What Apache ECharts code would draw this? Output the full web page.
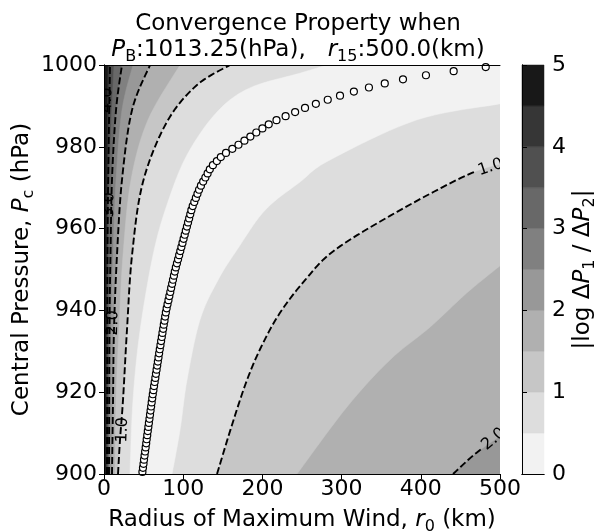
<!DOCTYPE html>
<html><head><meta charset="utf-8">
<script src="https://cdn.jsdelivr.net/npm/echarts@6/dist/echarts.min.js"></script>
<style>html,body{margin:0;padding:0;background:#fff}#c{width:596px;height:531px}</style>
</head><body><div id="c"></div>
<script>
// ---- axis ticks ----
const xTicks = [0, 100, 200, 300, 400, 500];
const yTicks = [900, 920, 940, 960, 980, 1000];
const cbTicks = [0, 1, 2, 3, 4, 5];
// ---- contour levels and band colours (0-0.5, 0.5-1, ... 4.5-5) ----
const levels = [0.5, 1.0, 1.5, 2.0, 2.5, 3.0, 3.5, 4.0, 4.5, 5.0];
const bandColors = ['#f2f2f2','#dddddd','#c6c6c6','#b0b0b0','#989898','#808080','#686868','#505050','#363636','#181818'];
// ---- contour lines, [r0 (km), Pc (hPa)], left branch: bottom -> top edge ----
const left05 = [[32.8,900],[36.6,918],[45.5,935],[61.9,953.5],[79.5,965.8],[104.8,978],[142.7,988.5],[184.3,994.4],[247.5,998],[281.6,1000]];
const left10 = [[17.7,900],[20.2,908.3],[24,918.1],[29,935.2],[35.4,953.5],[49.2,971.4],[79.5,986.1],[117.4,995.1],[159.1,1000]];
const left15 = [[13.9,900],[15.2,918.1],[18.9,935.2],[24,953.5],[34.1,971.9],[55.6,986.6],[96,1000]];
const left20 = [[10.1,900],[11.4,918.1],[12.6,935.2],[16.4,953.5],[22.7,971.9],[35.4,989],[58.1,1000]];
const left25 = [[7.6,900],[8.8,935],[11.4,953.5],[15.2,972],[22.7,989],[36.6,1000]];
const left30 = [[6.3,900],[6.9,935],[8.2,953.5],[10.1,972],[15.2,989],[22.7,1000]];
const left35 = [[5.1,900],[5.7,953.5],[7.6,978],[12.6,1000]];
const left40 = [[3.8,900],[4.4,953.5],[5.7,978],[7.6,1000]];
const left45 = [[2.5,900],[3.2,953.5],[3.8,978],[5.1,1000]];
// right branch: bottom edge -> right edge
const right05 = [[85.9,900],[96,910.8],[104.8,923],[121.2,937.7],[143.9,947.4],[167.9,954.8],[203.3,964.5],[247.5,971.4],[285.4,976.8],[395.2,986.6],[500,990.5]];
const right10 = [[142.7,900],[161.6,912],[180.6,923],[199.5,931.5],[222.2,939.4],[253.8,947.4],[291.7,954.8],[370,964.1],[458.3,973.1],[500,975.8]];
const right15 = [[243.7,900],[306.8,916.4],[361.1,927.9],[411.6,935.9],[458.3,944.3],[500,950.9]];
const right20 = [[440.7,900],[469.7,905.1],[500,909.3]];
// ---- contour labels ----
const labelText = ['1.0','2.0','3.0','4.0','1.0','2.0'];
const labelR    = [23.5, 11.4, 6.3, 3.8, 488, 492];
const labelPc   = [910.8, 936.9, 965.8, 991.4, 975.0, 908.5];
const labelRot  = [88, 89, 89, 89, 18, 40];
// ---- zero line markers [r0, Pc] ----
const zeroLine = [[48.5,900.5],[49.2,901.5],[49.9,902.5],[50.5,903.5],[51.2,904.5],[51.9,905.5],[52.6,906.5],[53.3,907.5],[53.9,908.5],[54.6,909.5],
[55.3,910.5],[56.0,911.5],[56.7,912.5],[57.4,913.5],[58.1,914.5],[58.8,915.5],[59.5,916.5],[60.2,917.5],[60.9,918.5],[61.6,919.5],
[62.4,920.5],[63.2,921.5],[64.0,922.5],[64.8,923.5],[65.6,924.5],[66.4,925.5],[67.2,926.5],[68.0,927.5],[68.8,928.5],[69.6,929.5],
[70.4,930.5],[71.3,931.5],[72.1,932.5],[73.0,933.5],[73.8,934.5],[74.7,935.5],[75.5,936.5],[76.4,937.5],[77.2,938.5],[78.1,939.5],
[79.1,940.5],[80.2,941.5],[81.4,942.5],[82.5,943.5],[83.7,944.5],[84.8,945.5],[86.0,946.5],[87.1,947.5],[88.3,948.5],[89.4,949.5],
[90.7,950.5],[92.1,951.5],[93.5,952.5],[94.9,953.5],[96.3,954.5],[97.7,955.5],[99.1,956.5],[100.5,957.5],[101.9,958.5],[103.3,959.5],
[104.7,960.5],[106.1,961.5],[107.5,962.5],[108.9,963.5],[110.3,964.5],[112.0,965.5],[114.0,966.5],[116.0,967.5],[118.0,968.5],[120.0,969.5],
[122.4,970.5],[125.2,971.5],[128.0,972.5],[130.8,973.5],[133.6,974.5],[137.5,975.5],[142.5,976.5],[147.5,977.5],[154.0,978.5],[162.0,979.5],
[169.8,980.5],[177.3,981.5],[184.8,982.5],[192.3,983.5],[200.0,984.5],[208.0,985.5],[217.8,986.5],[229.3,987.5],[241.3,988.5],[253.8,989.5],
[267.5,990.5],[282.5,991.5],[298.0,992.5],[315.5,993.5],[334.5,994.5],[354.5,995.5],[377.5,996.5],[406.5,997.5],[441.5,998.5],[482.0,999.5]];

const leftC = {0.5:left05, 1:left10, 1.5:left15, 2:left20, 2.5:left25, 3:left30, 3.5:left35, 4:left40, 4.5:left45};
const rightC = {0.5:right05, 1:right10, 1.5:right15, 2:right20};
const dashedSets = [left10, left20, left30, left40, right10, right20];
const dashedTrim = [false, false, false, false, true, true]; // last segment hidden under right-edge labels
const xMin = xTicks[0], xMax = xTicks[xTicks.length-1];
const yMin = yTicks[0], yMax = yTicks[yTicks.length-1];

// Catmull-Rom sampling of a polyline in pixel space (rendering only)
function smoothPix(pts, n) {
  n = n || 10;
  if (pts.length < 3) return pts.slice();
  const out = [];
  for (let i = 0; i < pts.length - 1; i++) {
    const p0 = pts[i-1] || pts[i], p1 = pts[i], p2 = pts[i+1], p3 = pts[i+2] || pts[i+1];
    for (let k = 0; k < n; k++) {
      const t = k / n, t2 = t*t, t3 = t2*t;
      const f = j => 0.5*((2*p1[j]) + (-p0[j]+p2[j])*t + (2*p0[j]-5*p1[j]+4*p2[j]-p3[j])*t2 + (-p0[j]+3*p1[j]-3*p2[j]+p3[j])*t3);
      out.push([f(0), f(1)]);
    }
  }
  out.push(pts[pts.length-1]);
  return out;
}

function regionPix(c, api) {
  const C = p => api.coord(p);
  if (c === null) return [[xMin,yMin],[xMin,yMax],[xMax,yMax],[xMax,yMin]].map(C);
  let pts = smoothPix(leftC[c].map(C));
  pts.push(C([xMax, yMax]));
  if (rightC[c]) pts = pts.concat(smoothPix(rightC[c].map(C)).reverse());
  else pts.push(C([xMax, yMin]));
  return pts;
}
const fillSteps = [null, 4.5, 4, 3.5, 3, 2.5, 2, 1.5, 1, 0.5];
function stepColor(c) { return c === null ? bandColors[bandColors.length-1] : bandColors[Math.round(c/0.5) - 1]; }

const FONT = 'DejaVu Sans';
function richFor(size) {
  return {
    i: {fontStyle:'italic', fontSize:size, fontFamily:FONT, color:'#000', lineHeight:30},
    s: {fontSize:Math.round(size*0.7), fontFamily:FONT, color:'#000', lineHeight:18, verticalAlign:'bottom'}
  };
}
const NAME = 23, TICK = 22;

const chart = echarts.init(document.getElementById('c'));
const axisCommon = {
  axisLine:{show:true, lineStyle:{color:'#000', width:1}},
  splitLine:{show:false}, z:10
};
const plainNum = v => String(v);
const option = {
  animation:false,
  backgroundColor:'#fff',
  title:[
    {text:'Convergence Property when', left:'center', top:4, padding:[5,0,5,8],
     textStyle:{fontFamily:FONT, fontSize:NAME, fontWeight:'normal', color:'#000', lineHeight:30}},
    {text:'{i|P}{s|B}:1013.25(hPa),   {i|r}{s|15}:500.0(km)', left:'center', top:30, padding:[5,0,5,8],
     textStyle:{fontFamily:FONT, fontSize:NAME, fontWeight:'normal', color:'#000', lineHeight:30, rich:richFor(NAME)}}
  ],
  grid:[
    {left:104, top:65, width:396, height:409, containLabel:false, outerBoundsMode:'none'},
    {left:522, top:65, width:22, height:409, containLabel:false, outerBoundsMode:'none'}
  ],
  xAxis:[
    Object.assign({}, axisCommon, {type:'value', gridIndex:0, min:xMin, max:xMax, interval:100, position:'bottom',
      axisTick:{show:true, length:5, lineStyle:{color:'#000', width:1}},
      axisLabel:{fontFamily:FONT, fontSize:TICK, color:'#000', margin:4, lineHeight:22, formatter:plainNum},
      name:'Radius of Maximum Wind, {i|r}{s|0} (km)', nameLocation:'middle', nameGap:26,
      nameTextStyle:{fontFamily:FONT, fontSize:NAME, color:'#000', lineHeight:30, rich:richFor(NAME)}}),
    Object.assign({}, axisCommon, {type:'value', gridIndex:0, min:xMin, max:xMax, position:'top',
      axisTick:{show:false}, axisLabel:{show:false}}),
    Object.assign({}, axisCommon, {type:'value', gridIndex:1, min:0, max:1, position:'bottom',
      axisTick:{show:false}, axisLabel:{show:false}}),
    Object.assign({}, axisCommon, {type:'value', gridIndex:1, min:0, max:1, position:'top',
      axisTick:{show:false}, axisLabel:{show:false}})
  ],
  yAxis:[
    Object.assign({}, axisCommon, {type:'value', gridIndex:0, min:yMin, max:yMax, interval:20, position:'left',
      axisTick:{show:true, length:5, lineStyle:{color:'#000', width:1}},
      axisLabel:{fontFamily:FONT, fontSize:TICK, color:'#000', margin:7, formatter:plainNum},
      name:'Central Pressure, {i|P}{s|c} (hPa)', nameLocation:'middle', nameGap:67, nameRotate:90, nameMoveOverlap:false,
      nameTextStyle:{fontFamily:FONT, fontSize:NAME, color:'#000', lineHeight:30, rich:richFor(NAME)}}),
    Object.assign({}, axisCommon, {type:'value', gridIndex:0, min:yMin, max:yMax, position:'right',
      axisTick:{show:false}, axisLabel:{show:false}}),
    Object.assign({}, axisCommon, {type:'value', gridIndex:1, min:0, max:5, position:'left',
      axisTick:{show:false}, axisLabel:{show:false}}),
    Object.assign({}, axisCommon, {type:'value', gridIndex:1, min:cbTicks[0], max:cbTicks[cbTicks.length-1], interval:1, position:'right',
      axisTick:{show:true, length:5, lineStyle:{color:'#000', width:1}},
      axisLabel:{fontFamily:FONT, fontSize:TICK, color:'#000', margin:8, formatter:plainNum},
      name:'|log Δ{i|P}{s|1} / Δ{i|P}{s|2}|', nameLocation:'middle', nameGap:24, nameRotate:90, nameMoveOverlap:false,
      nameTextStyle:{fontFamily:FONT, fontSize:NAME, color:'#000', lineHeight:30, rich:richFor(NAME)}})
  ],
  series:[
    {type:'custom', xAxisIndex:0, yAxisIndex:0, clip:true, silent:true, z:1,
     data: fillSteps.map((c,i)=>[i]),
     renderItem:function(params, api){
       const c = fillSteps[params.dataIndex];
       return {type:'polygon', shape:{points:regionPix(c, api)}, style:{fill:stepColor(c), stroke:stepColor(c), lineWidth:0.5}};
     }},
    {type:'custom', xAxisIndex:0, yAxisIndex:0, clip:true, silent:true, z:3,
     data: dashedSets.map((s,i)=>[i]),
     renderItem:function(params, api){
       const i = params.dataIndex;
       let pts = smoothPix(dashedSets[i].map(p=>api.coord(p)));
       if (dashedTrim[i]) pts = pts.slice(0, pts.length - 8);
       return {type:'polyline', shape:{points:pts}, style:{stroke:'#000', lineWidth:1.9, lineDash:[7,3], fill:null}};
     }},
    {type:'scatter', xAxisIndex:0, yAxisIndex:0, data:zeroLine, symbol:'circle', symbolSize:7, silent:true, z:5,
     itemStyle:{color:'#fff', borderColor:'#000', borderWidth:1.2, opacity:1}},
    {type:'custom', xAxisIndex:0, yAxisIndex:0, clip:true, silent:true, z:6,
     data: labelText.map((t,i)=>[labelR[i], labelPc[i]]),
     renderItem:function(params, api){
       const i = params.dataIndex;
       const p = api.coord([labelR[i], labelPc[i]]);
       return {type:'text', x:p[0], y:p[1], rotation:labelRot[i]*Math.PI/180,
         style:{text:labelText[i], fontFamily:FONT, fontSize:16, fill:'#000', align:'center', verticalAlign:'middle'}};
     }},
    {type:'custom', xAxisIndex:2, yAxisIndex:2, silent:true, z:1,
     data: levels.map((l,i)=>[i]),
     renderItem:function(params, api){
       const i = params.dataIndex;
       const lo = i===0 ? 0 : levels[i-1], hi = levels[i];
       const a = api.coord([0, lo]), b = api.coord([1, hi]);
       return {type:'rect', shape:{x:a[0], y:b[1], width:b[0]-a[0], height:a[1]-b[1]},
         style:{fill:bandColors[i], stroke:bandColors[i], lineWidth:0.5}};
     }}
  ]
};
chart.setOption(option);
</script></body></html>
